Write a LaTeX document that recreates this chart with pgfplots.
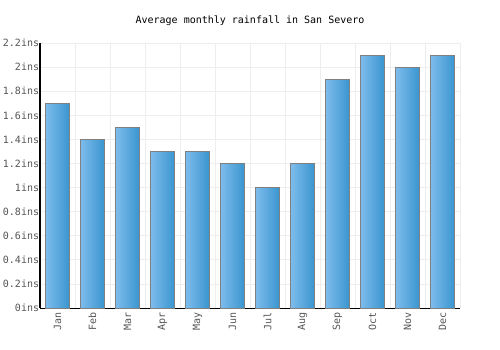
\documentclass[border=0pt]{standalone}
\usepackage{fontspec}
\setmainfont{DejaVu Sans Mono}
\usepackage{pgfplots}
\pgfplotsset{compat=1.18}
\definecolor{barL}{HTML}{7DBCEC}
\definecolor{barR}{HTML}{3A95CF}
\definecolor{gridc}{HTML}{EEEEEE}
\definecolor{lab}{HTML}{555555}
\pgfplotsset{mybar/.style={ybar, bar width=0.67, left color=barL, right color=barR, draw=gray, line width=0.7pt, mark=none}}
\begin{document}
\begin{tikzpicture}
\path[use as bounding box] (-30pt,-31.5pt) rectangle (345pt,231pt);
\begin{axis}[
  at={(0pt,0pt)}, anchor=south west,
  scale only axis, width=315pt, height=198.75pt,
  xmin=-0.5, xmax=11.5, ymin=0, ymax=2.2,
  axis lines*=left,
  axis line style={black, line width=0.75pt},
  xtick={0,...,11},
  xticklabels={Jan,Feb,Mar,Apr,May,Jun,Jul,Aug,Sep,Oct,Nov,Dec},
  minor xtick={-0.5,0.5,...,11.5},
  ytick={0,0.2,...,2.2},
  yticklabels={0ins,0.2ins,0.4ins,0.6ins,0.8ins,1ins,1.2ins,1.4ins,1.6ins,1.8ins,2ins,2.2ins},
  ymajorgrids, xminorgrids,
  major grid style={gridc, line width=0.6pt},
  minor grid style={gridc, line width=0.6pt},
  major tick length=0pt, minor tick length=0pt,
  tick style={draw=none},
  tick label style={font=\fontsize{7.5}{9}\selectfont, text=lab},
  yticklabel style={inner sep=1pt, xshift=0.5pt},
  xticklabel style={rotate=90, anchor=east},
  clip=false,
]
\addplot[mybar] coordinates {(0,1.7)};
\addplot[mybar] coordinates {(1,1.4)};
\addplot[mybar] coordinates {(2,1.5)};
\addplot[mybar] coordinates {(3,1.3)};
\addplot[mybar] coordinates {(4,1.3)};
\addplot[mybar] coordinates {(5,1.2)};
\addplot[mybar] coordinates {(6,1.0)};
\addplot[mybar] coordinates {(7,1.2)};
\addplot[mybar] coordinates {(8,1.9)};
\addplot[mybar] coordinates {(9,2.1)};
\addplot[mybar] coordinates {(10,2.0)};
\addplot[mybar] coordinates {(11,2.1)};
\end{axis}
\node[font=\fontsize{7.5}{9}\selectfont, text=black] at (157.5pt,215.25pt) {Average monthly rainfall in San Severo};
\end{tikzpicture}
\end{document}
